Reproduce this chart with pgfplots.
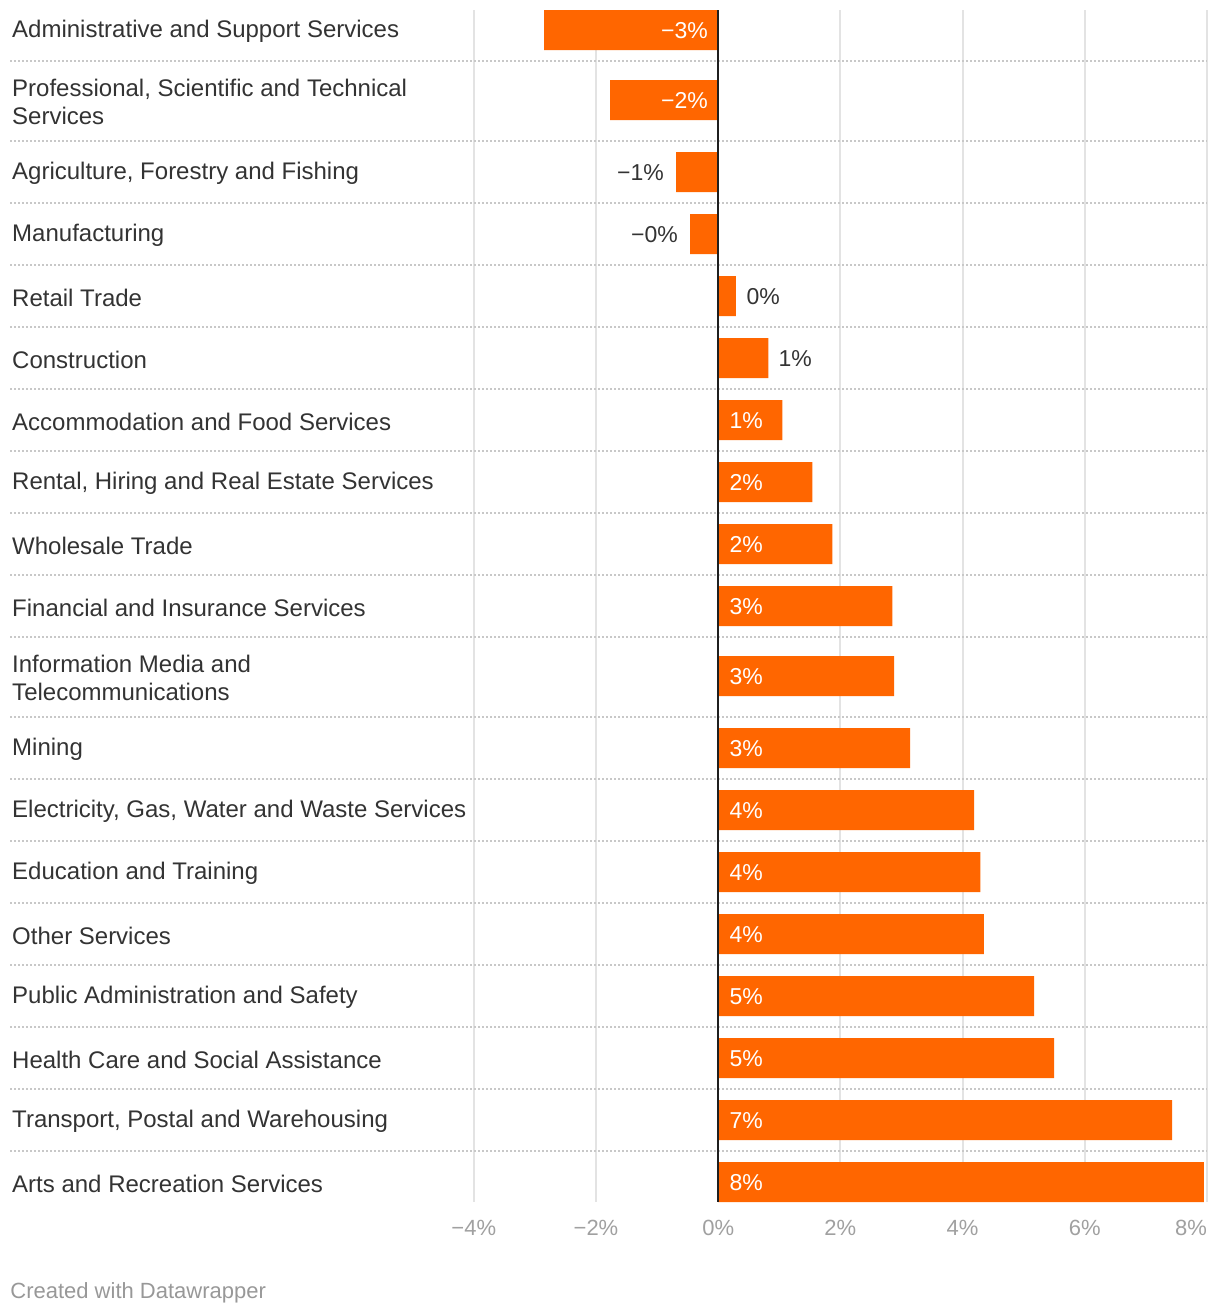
\documentclass[border=0pt]{standalone}
\usepackage{pgfplots}
\pgfplotsset{compat=1.18}
\usepackage{fontspec}
\setmainfont{Liberation Sans}
\newfontfamily\plainfont{Liberation Sans}
\definecolor{barorange}{HTML}{FF6600}
\definecolor{txt}{HTML}{333333}
\definecolor{ticktxt}{HTML}{A0A0A0}
\definecolor{gridc}{HTML}{E3E3E3}
\definecolor{sepc}{HTML}{C8C8C8}
\begin{document}
\begin{tikzpicture}
\begin{axis}[
  scale only axis, width=598.5pt, height=596pt,
  xmin=-11.59, xmax=8, ymin=10, ymax=1202, y dir=reverse,
  axis line style={draw=none}, major tick length=0pt,
  xtick={-4,-2,0,2,4,6,8},
  xticklabels={−4\%,−2\%,0\%,2\%,4\%,6\%,\makebox[0pt][r]{8\%}},
  xticklabel style={anchor=base, inner sep=0pt, yshift=-16.5pt, text=ticktxt, font=\plainfont\fontsize{11}{13}\selectfont},
  xmajorgrids, x grid style={gridc, line width=1pt},
  ytick={61,141,203,265,327,389,451,513,575,637,717,779,841,903,965,1027,1089,1151},
  yticklabels={}, ymajorgrids,
  y grid style={sepc, line width=0.9pt, dash pattern=on 0.9pt off 1.1pt},
  clip=false,
]
\addplot[xbar, bar width=40, fill=barorange, draw=none] coordinates {
(-2.85,30) (-1.77,100) (-0.69,172) (-0.46,234) (0.29,296) (0.82,358)
(1.05,420) (1.54,482) (1.87,544) (2.85,606) (2.88,676) (3.14,748)
(4.19,810) (4.29,872) (4.35,934) (5.17,996) (5.50,1058) (7.43,1120) (7.95,1182)
};
\addplot[black!88, line width=1pt] coordinates {(0,10) (0,1202)};
% category labels
\begin{scope}[every node/.append style={anchor=west, inner sep=0pt, yshift=-0.8pt, text=txt, align=left, font=\fontsize{12}{14}\selectfont}]
\node at (axis cs:-11.56,30) {Administrative and Support Services};
\node at (axis cs:-11.56,100) {Professional, Scientific and Technical\\Services};
\node at (axis cs:-11.56,172) {Agriculture, Forestry and Fishing};
\node at (axis cs:-11.56,234) {Manufacturing};
\node at (axis cs:-11.56,296) {Retail Trade};
\node at (axis cs:-11.56,358) {Construction};
\node at (axis cs:-11.56,420) {Accommodation and Food Services};
\node at (axis cs:-11.56,482) {Rental, Hiring and Real Estate Services};
\node at (axis cs:-11.56,544) {Wholesale Trade};
\node at (axis cs:-11.56,606) {Financial and Insurance Services};
\node at (axis cs:-11.56,676) {Information Media and\\Telecommunications};
\node at (axis cs:-11.56,748) {Mining};
\node at (axis cs:-11.56,810) {Electricity, Gas, Water and Waste Services};
\node at (axis cs:-11.56,872) {Education and Training};
\node at (axis cs:-11.56,934) {Other Services};
\node at (axis cs:-11.56,996) {Public Administration and Safety};
\node at (axis cs:-11.56,1058) {Health Care and Social Assistance};
\node at (axis cs:-11.56,1120) {Transport, Postal and Warehousing};
\node at (axis cs:-11.56,1182) {Arts and Recreation Services};
\end{scope}
% value labels
\begin{scope}[every node/.append style={inner sep=0pt, yshift=-0.5pt, font=\plainfont\fontsize{11.5}{13}\selectfont}]
\node[anchor=east, text=white] at (axis cs:-0.164,30) {−3\%};
\node[anchor=east, text=white] at (axis cs:-0.164,100) {−2\%};
\node[anchor=east, text=txt] at (axis cs:-0.884,172) {−1\%};
\node[anchor=east, text=txt] at (axis cs:-0.655,234) {−0\%};
\node[anchor=west, text=txt] at (axis cs:0.458,296) {0\%};
\node[anchor=west, text=txt] at (axis cs:0.982,358) {1\%};
\node[anchor=west, text=white] at (axis cs:0.18,420) {1\%};
\node[anchor=west, text=white] at (axis cs:0.18,482) {2\%};
\node[anchor=west, text=white] at (axis cs:0.18,544) {2\%};
\node[anchor=west, text=white] at (axis cs:0.18,606) {3\%};
\node[anchor=west, text=white] at (axis cs:0.18,676) {3\%};
\node[anchor=west, text=white] at (axis cs:0.18,748) {3\%};
\node[anchor=west, text=white] at (axis cs:0.18,810) {4\%};
\node[anchor=west, text=white] at (axis cs:0.18,872) {4\%};
\node[anchor=west, text=white] at (axis cs:0.18,934) {4\%};
\node[anchor=west, text=white] at (axis cs:0.18,996) {5\%};
\node[anchor=west, text=white] at (axis cs:0.18,1058) {5\%};
\node[anchor=west, text=white] at (axis cs:0.18,1120) {7\%};
\node[anchor=west, text=white] at (axis cs:0.18,1182) {8\%};
\end{scope}
\node[anchor=base west, inner sep=0pt, text=ticktxt!95!black, font=\fontsize{11}{13}\selectfont] at (axis cs:-11.59,1298) {Created with Datawrapper};
\end{axis}
\pgfresetboundingbox
\useasboundingbox (-5pt,-56pt) rectangle (605pt,601pt);
\end{tikzpicture}
\end{document}
